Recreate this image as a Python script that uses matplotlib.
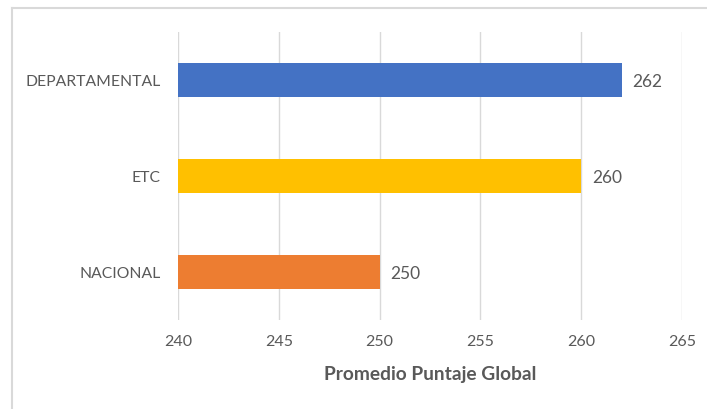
import matplotlib.pyplot as plt
from matplotlib.lines import Line2D

categories = ['NACIONAL', 'ETC', 'DEPARTAMENTAL']
values = [250, 260, 262]
colors = ['#ED7D31', '#FFC000', '#4472C4']
xticks = [240, 245, 250, 255, 260, 265]

plt.rcParams['font.family'] = ['Lato', 'DejaVu Sans']
text_color = '#595959'

fig = plt.figure(figsize=(7.07, 4.09), dpi=100)
ax = fig.add_axes([178 / 707, 89 / 409, 504 / 707, 288 / 409])

# the chart starts the bars at 240, not at zero
ax.barh(categories, [v - 240 for v in values], left=240, height=0.36, color=colors, zorder=3)

for i, v in enumerate(values):
    ax.text(v + 0.55, i - 0.02, str(v), va='center', ha='left', fontsize=12.5, color=text_color)

ax.set_xlim(240, 265)
ax.set_ylim(-0.5, 2.5)
ax.set_xticks(xticks)
ax.grid(axis='x', color='#D9D9D9', linewidth=1, zorder=0)
ax.tick_params(axis='x', length=0, labelsize=11.5, colors=text_color, pad=11)
ax.tick_params(axis='y', length=0, labelsize=11.3, colors=text_color, pad=12.5)
for s in ax.spines.values():
    s.set_visible(False)

ax.set_xlabel('Promedio Puntaje Global', fontsize=13.8, fontweight='bold', color=text_color, labelpad=12)

# light gray frame around the chart (only left and top visible in the crop)
fig.add_artist(Line2D([12 / 707, 12 / 707], [0, 1 - 8 / 409], transform=fig.transFigure, color='#D9D9D9', linewidth=1.5))
fig.add_artist(Line2D([12 / 707, 1], [1 - 8 / 409, 1 - 8 / 409], transform=fig.transFigure, color='#D9D9D9', linewidth=1.5))

fig.savefig('out.png', dpi=100)
